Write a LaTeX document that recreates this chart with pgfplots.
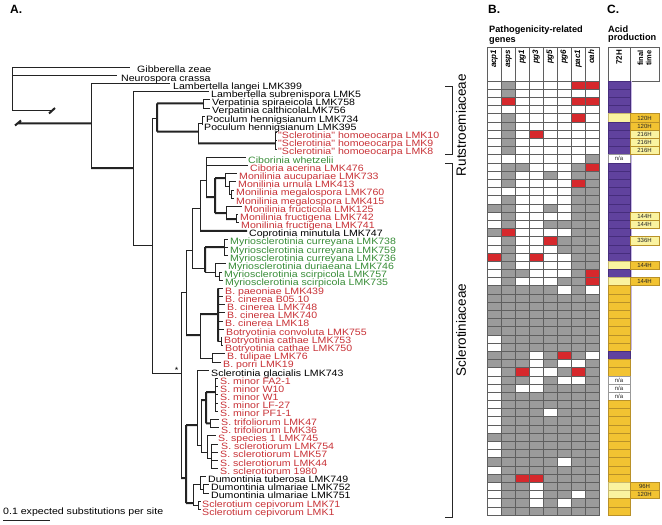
\documentclass[border=0pt]{standalone}
\usepackage{pgfplots}
\pgfplotsset{compat=1.18}
\usepackage{pgfplotstable}
\usepackage{fontspec}
\setmainfont{Liberation Sans}
\newfontfamily\labfont[FakeStretch=1.15]{Liberation Sans}

\definecolor{cgray}{RGB}{155,155,155}
\definecolor{cred}{RGB}{214,40,44}
\definecolor{cgrid}{RGB}{95,95,95}
\definecolor{apurple}{RGB}{96,66,158}
\definecolor{apurpled}{RGB}{70,45,125}
\definecolor{aorange}{RGB}{242,195,50}
\definecolor{aoranged}{RGB}{185,145,40}
\definecolor{alight}{RGB}{250,243,160}
\definecolor{alightd}{RGB}{200,185,110}
\definecolor{lred}{RGB}{200,50,55}
\definecolor{lgreen}{RGB}{55,140,55}
\definecolor{lav}{RGB}{200,185,230}
\definecolor{treec}{RGB}{35,35,35}

\pgfdeclareplotmark{cellg}{\pgfpathrectangle{\pgfqpoint{-7bp}{-4.095bp}}{\pgfqpoint{14bp}{8.19bp}}\pgfusepathqfillstroke}
\pgfdeclareplotmark{cella}{\pgfpathrectangle{\pgfqpoint{-11bp}{-4.095bp}}{\pgfqpoint{22bp}{8.19bp}}\pgfusepathqfillstroke}
\pgfdeclareplotmark{cellf}{\pgfpathrectangle{\pgfqpoint{-14.5bp}{-4.095bp}}{\pgfqpoint{29bp}{8.19bp}}\pgfusepathqfillstroke}
\pgfdeclareplotmark{nothing}{}

% gene presence: w = absent (white), g = present (gray), r = red
\pgfplotstableread{
r acp1 asps pg1 pg3 pg5 pg6 pac1 oah
0 w g w w w w r r
1 w g w w w w w w
2 w r w w w w r r
3 w w w w w w w w
4 w g w w w w r w
5 w g w w w w w w
6 w g w r w w w w
7 w g w w w w w w
8 w g w w w w w w
9 w w w w w w w g
10 w g g w w w g r
11 w g w w g w g g
12 w g w w w w r g
13 w w w w w w g g
14 w g w w w w g g
15 g g w w g w g g
16 w g w w w w g g
17 w g w w g g g g
18 g r w w w w g g
19 w g w w r g g g
20 w g w w w g g g
21 r g w r w w g g
22 w g w w w w g g
23 w g g w w w g r
24 w g w w w g g r
25 g g g g g w g w
26 g g g g g g g g
27 g g g g g g g g
28 g g g g g g g g
29 g g g g g g g g
30 g g g g g g g g
31 w g g g g g g g
32 w g g g g g g g
33 g g g w g r g w
34 g g g w g w w g
35 w g r w w g r g
36 w g g w g w w g
37 w g w w g g g g
38 w g g g g g g g
39 w g g g g g g g
40 w g g g w g g g
41 w g g g g g g g
42 w g g g g g g g
43 g g g g g g g g
44 w g g g g g g g
45 w g g g g g g g
46 g g g g g w g g
47 w g g g g g g g
48 g g r r g g g g
49 w g g w g g g g
50 w g g w g g w g
51 w g g w g w g g
52 w g g g g g g g
}\genes

% acid production at 72H: P purple, L light yellow, O orange, N n/a
\pgfplotstableread{
r c
0 P
1 P
2 P
3 P
4 L
5 P
6 P
7 P
8 P
9 N
10 P
11 P
12 P
13 P
14 P
15 P
16 P
17 P
18 P
19 P
20 P
21 P
22 L
23 P
24 L
25 O
26 O
27 O
28 O
29 O
30 O
31 O
32 O
33 P
34 O
35 O
36 N
37 N
38 N
39 O
40 O
41 O
42 O
43 O
44 O
45 O
46 O
47 O
48 O
49 L
50 L
51 O
52 O
}\acid

\pgfplotstableread{
r t
9 n/a
36 n/a
37 n/a
38 n/a
}\natab

% final time
\pgfplotstableread{
r c t
4 O 120H
5 O 120H
6 L 216H
7 L 216H
8 L 216H
16 L 144H
17 L 144H
19 L 336H
22 O 144H
24 O 144H
49 O 96H
50 O 120H
}\final

\newcommand{\tiplab}[4]{\node[anchor=west, inner sep=0pt, text height=6.6bp, text depth=0pt, text=#3, font=\labfont\fontsize{9.2bp}{9.2bp}\selectfont] at (axis cs:#1,#2) {#4};}
\newcommand{\hlab}[2]{\node[rotate=90, anchor=east, inner sep=0pt, text height=5.8bp, text depth=1.7bp, font=\bfseries\itshape\fontsize{8bp}{8bp}\selectfont] at (axis cs:#1,49.5) {#2};}
\newcommand{\vsep}[1]{\draw[cgrid, line width=0.6bp] (axis cs:#1,47) -- (axis cs:#1,81);}

\begin{document}
\begin{tikzpicture}
\begin{axis}[
  scale only axis, width=662bp, height=525bp,
  xmin=0, xmax=662, ymin=0, ymax=525, y dir=reverse,
  hide axis, clip=false,
]
\path (axis cs:0,0) rectangle (axis cs:662,525);

% ---------------- tree: thin branches
\addplot[treec, line width=0.8bp, unbounded coords=jump, mark=none] table {
x y
12 67.1
12 110.7
nan nan
12 67.1
130 67.1
nan nan
12 75.3
117 75.3
nan nan
12 110.7
53 110.7
nan nan
91 83.5
91 168
nan nan
91 83.5
170 83.5
nan nan
133 91.7
133 245
nan nan
133 91.7
209 91.7
nan nan
133 245
152 245
nan nan
152 118
152 373
nan nan
152 118
157 118
nan nan
203 99.9
203 108.1
nan nan
203 99.9
210 99.9
nan nan
203 108.1
210 108.1
nan nan
198 123.3
198 143.3
nan nan
198 123.3
202 123.3
nan nan
202 116.3
202 124.5
nan nan
202 116.3
205 116.3
nan nan
202 124.5
203 124.5
nan nan
275 132.6
275 149.0
nan nan
275 132.6
277 132.6
nan nan
275 140.8
277 140.8
nan nan
275 149.0
277 149.0
nan nan
152 373
181 373
nan nan
181 292
181 478
nan nan
181 292
186 292
nan nan
186 250
186 335
nan nan
186 250
192 250
nan nan
192 208
192 268
nan nan
192 208
200 208
nan nan
200 180
200 230.9
nan nan
200 180
206 180
nan nan
206 157.2
206 197
nan nan
206 157.2
246 157.2
nan nan
206 165.4
248 165.4
nan nan
225 173.6
225 186
nan nan
225 173.6
237 173.6
nan nan
225 186
229 186
nan nan
229 181.8
229 194
nan nan
229 181.8
236 181.8
nan nan
229 194
231 194
nan nan
231 190
231 198.2
nan nan
231 190
234 190
nan nan
231 198.2
234 198.2
nan nan
226 206.4
226 219
nan nan
226 206.4
242 206.4
nan nan
236 214.5
236 222.7
nan nan
236 214.5
238 214.5
nan nan
236 222.7
239 222.7
nan nan
192 268
205 268
nan nan
224 239.1
224 255.5
nan nan
224 239.1
228 239.1
nan nan
224 247.3
228 247.3
nan nan
224 255.5
228 255.5
nan nan
205 272
215 272
nan nan
215 263.7
215 276
nan nan
215 263.7
226 263.7
nan nan
215 276
219 276
nan nan
219 271.9
219 280.1
nan nan
219 271.9
222 271.9
nan nan
219 280.1
223 280.1
nan nan
200 314
200 358
nan nan
218 288.3
223 288.3
nan nan
218 296.4
223 296.4
nan nan
218 304.6
225 304.6
nan nan
218 312.8
225 312.8
nan nan
218 321.0
223 321.0
nan nan
218 329.2
224 329.2
nan nan
218 341.5
221 341.5
nan nan
221 337.4
221 345.6
nan nan
221 337.4
222 337.4
nan nan
221 345.6
223 345.6
nan nan
200 358
212 358
nan nan
212 353.8
212 362
nan nan
212 353.8
225 353.8
nan nan
212 362
221 362
nan nan
197 370.2
197 445
nan nan
197 370.2
209 370.2
nan nan
197 445
201 445
nan nan
201 400
201 452
nan nan
215 378.3
215 411.1
nan nan
215 378.3
218 378.3
nan nan
215 386.5
218 386.5
nan nan
215 394.7
218 394.7
nan nan
215 402.9
218 402.9
nan nan
215 411.1
218 411.1
nan nan
210 419.3
210 427.5
nan nan
210 419.3
219 419.3
nan nan
210 427.5
219 427.5
nan nan
201 452
207 452
nan nan
207 435.7
207 458
nan nan
207 435.7
216 435.7
nan nan
207 458
211 458
nan nan
211 443.9
211 468.4
nan nan
211 443.9
218 443.9
nan nan
211 452.1
218 452.1
nan nan
211 460.2
218 460.2
nan nan
211 468.4
218 468.4
nan nan
193 484
193 505.3
nan nan
193 484
200 484
nan nan
200 476.6
200 489
nan nan
200 476.6
206 476.6
nan nan
200 489
203 489
nan nan
203 484.8
203 493
nan nan
203 484.8
209 484.8
nan nan
203 493
209 493
nan nan
193 505.3
198 505.3
nan nan
198 501.2
198 509.4
nan nan
198 501.2
201 501.2
nan nan
198 509.4
201 509.4
nan nan
3 520
50 520
};

% ---------------- tree: thick (well supported) branches
\addplot[treec, line width=2bp, unbounded coords=jump, mark=none] table {
x y
17 123.3
91 123.3
nan nan
91 168
133 168
nan nan
157 103.5
157 131.7
nan nan
157 103.5
203 103.5
nan nan
157 131.7
198 131.7
nan nan
198 143.3
275 143.3
nan nan
206 197
215 197
nan nan
215 178
215 213
nan nan
215 178
225 178
nan nan
215 213
226 213
nan nan
226 219
236 219
nan nan
200 230.9
247 230.9
nan nan
205 247
205 272
nan nan
205 247
224 247
nan nan
186 335
200 335
nan nan
200 314
218 314
nan nan
218 288.3
218 341.5
nan nan
181 478
186 478
nan nan
186 425
186 503
nan nan
186 425
197 425
nan nan
201 400
206 400
nan nan
206 392
206 423.4
nan nan
206 392
215 392
nan nan
206 423.4
210 423.4
nan nan
186 503
193 503
nan nan
49 113.5
55 108
nan nan
15 125.5
21 120.5
};

% ---------------- tip labels
\tiplab{137}{69.6}{black}{Gibberella zeae}
\tiplab{121}{77.8}{black}{Neurospora crassa}
\tiplab{173}{86.0}{black}{Lambertella langei LMK399}
\tiplab{211}{94.2}{black}{Lambertella subrenispora LMK5}
\tiplab{212}{102.4}{black}{Verpatinia spiraeicola LMK758}
\tiplab{212}{110.6}{black}{Verpatinia calthicolaLMK756}
\tiplab{206}{118.8}{black}{Poculum hennigsianum LMK734}
\tiplab{204}{127.0}{black}{Poculum hennigsianum LMK395}
\tiplab{278}{135.1}{lred}{"Sclerotinia" homoeocarpa LMK10}
\tiplab{278}{143.3}{lred}{"Sclerotinia" homoeocarpa LMK9}
\tiplab{278}{151.5}{lred}{"Sclerotinia" homoeocarpa LMK8}
\tiplab{248}{159.7}{lgreen}{Ciborinia whetzelii}
\tiplab{250}{167.9}{lred}{Ciboria acerina LMK476}
\tiplab{239}{176.1}{lred}{Monilinia aucupariae LMK733}
\tiplab{238}{184.3}{lred}{Monilinia urnula LMK413}
\tiplab{236}{192.5}{lred}{Monilinia megalospora LMK760}
\tiplab{236}{200.7}{lred}{Monilinia megalospora LMK415}
\tiplab{244}{208.9}{lred}{Monilinia fructicola LMK125}
\tiplab{240}{217.0}{lred}{Monilinia fructigena LMK742}
\tiplab{241}{225.2}{lred}{Monilinia fructigena LMK741}
\tiplab{249}{233.4}{black}{Coprotinia minutula LMK747}
\tiplab{230}{241.6}{lgreen}{Myriosclerotinia curreyana LMK738}
\tiplab{230}{249.8}{lgreen}{Myriosclerotinia curreyana LMK759}
\tiplab{230}{258.0}{lgreen}{Myriosclerotinia curreyana LMK736}
\tiplab{228}{266.2}{lgreen}{Myriosclerotinia duriaeana LMK746}
\tiplab{224}{274.4}{lgreen}{Myriosclerotinia scirpicola LMK757}
\tiplab{225}{282.6}{lgreen}{Myriosclerotinia scirpicola LMK735}
\tiplab{225}{290.8}{lred}{B. paeoniae LMK439}
\tiplab{225}{298.9}{lred}{B. cinerea B05.10}
\tiplab{227}{307.1}{lred}{B. cinerea LMK748}
\tiplab{227}{315.3}{lred}{B. cinerea LMK740}
\tiplab{225}{323.5}{lred}{B. cinerea LMK18}
\tiplab{226}{331.7}{lred}{Botryotinia convoluta LMK755}
\tiplab{224}{339.9}{lred}{Botryotinia cathae LMK753}
\tiplab{225}{348.1}{lred}{Botryotinia cathae LMK750}
\tiplab{227}{356.3}{lred}{B. tulipae LMK76}
\tiplab{223}{364.5}{lred}{B. porri LMK19}
\tiplab{211}{372.7}{black}{Sclerotinia glacialis LMK743}
\tiplab{220}{380.8}{lred}{S. minor FA2-1}
\tiplab{220}{389.0}{lred}{S. minor W10}
\tiplab{220}{397.2}{lred}{S. minor W1}
\tiplab{220}{405.4}{lred}{S. minor LF-27}
\tiplab{220}{413.6}{lred}{S. minor PF1-1}
\tiplab{221}{421.8}{lred}{S. trifoliorum LMK47}
\tiplab{221}{430.0}{lred}{S. trifoliorum LMK36}
\tiplab{218}{438.2}{lred}{S. species 1 LMK745}
\tiplab{221}{446.4}{lred}{S. sclerotiorum LMK754}
\tiplab{220}{454.6}{lred}{S. sclerotiorum LMK57}
\tiplab{220}{462.7}{lred}{S. sclerotiorum LMK44}
\tiplab{220}{470.9}{lred}{S. sclerotiorum 1980}
\tiplab{208}{479.1}{black}{Dumontinia tuberosa LMK749}
\tiplab{211}{487.3}{black}{Dumontinia ulmariae LMK752}
\tiplab{211}{495.5}{black}{Dumontinia ulmariae LMK751}
\tiplab{202}{503.7}{lred}{Sclerotium cepivorum LMK71}
\tiplab{202}{511.9}{lred}{Sclerotium cepivorum LMK1}
\tiplab{3}{511.5}{black}{0.1 expected substitutions per site}
\node[inner sep=0pt, font=\fontsize{9bp}{9bp}\selectfont] at (axis cs:176.5,370) {*};

% ---------------- panel letters and headers
\node[anchor=west, inner sep=0pt, text height=8.5bp, text depth=0pt, font=\bfseries\fontsize{12bp}{12bp}\selectfont] at (axis cs:10,9.3) {A.};
\node[anchor=west, inner sep=0pt, text height=8.5bp, text depth=0pt, font=\bfseries\fontsize{12bp}{12bp}\selectfont] at (axis cs:488,9.3) {B.};
\node[anchor=west, inner sep=0pt, text height=8.5bp, text depth=0pt, font=\bfseries\fontsize{12bp}{12bp}\selectfont] at (axis cs:607,9.3) {C.};
\node[anchor=base west, inner sep=0pt, font=\bfseries\fontsize{9.2bp}{9.2bp}\selectfont] at (axis cs:489,32.5) {Pathogenicity-related};
\node[anchor=base west, inner sep=0pt, font=\bfseries\fontsize{9.2bp}{9.2bp}\selectfont] at (axis cs:489,43) {genes};
\node[anchor=base west, inner sep=0pt, font=\bfseries\fontsize{9.2bp}{9.2bp}\selectfont] at (axis cs:608,32.5) {Acid};
\node[anchor=base west, inner sep=0pt, font=\bfseries\fontsize{9.2bp}{9.2bp}\selectfont] at (axis cs:608,41) {production};

\draw[cgrid, line width=0.6bp] (axis cs:487,47) rectangle (axis cs:599,81);
\vsep{501}
\vsep{515}
\vsep{529}
\vsep{543}
\vsep{557}
\vsep{571}
\vsep{585}
\draw[cgrid, line width=0.6bp] (axis cs:608,47) rectangle (axis cs:659,81);
\vsep{630}
\hlab{494}{acp1}
\hlab{508}{asps}
\hlab{522}{pg1}
\hlab{536}{pg3}
\hlab{550}{pg5}
\hlab{564}{pg6}
\hlab{578}{pac1}
\hlab{592}{oah}
\node[rotate=90, anchor=east, inner sep=0pt, text height=5.7bp, text depth=0pt, font=\bfseries\fontsize{8bp}{8bp}\selectfont] at (axis cs:619,50) {72H};
\node[rotate=90, anchor=east, inner sep=0pt, align=center, font=\bfseries\fontsize{7.5bp}{8.2bp}\selectfont] at (axis cs:644.5,50) {final\\time};

% ---------------- gene matrix
\pgfplotsinvokeforeach{1,...,8}{
\addplot[scatter, only marks, scatter src=explicit symbolic,
  scatter/classes={
    w={mark=cellg, fill=white, draw=cgrid, line width=0.6bp},
    g={mark=cellg, fill=cgray, draw=cgrid, line width=0.6bp},
    r={mark=cellg, fill=cred, draw=cgrid, line width=0.6bp}}]
  table[x expr={480+14*#1}, y expr={85.1+8.19*\thisrow{r}}, meta index=#1] {\genes};
}

% ---------------- acid production 72H
\addplot[scatter, only marks, scatter src=explicit symbolic,
  scatter/classes={
    P={mark=cella, fill=apurple, draw=apurpled, line width=0.6bp},
    L={mark=cella, fill=alight, draw=alightd, line width=0.6bp},
    O={mark=cella, fill=aorange, draw=aoranged, line width=0.6bp},
    N={mark=cella, fill=white, draw=black!40, line width=0.6bp}}]
  table[x expr=619, y expr={85.1+8.19*\thisrow{r}}, meta=c] {\acid};
\addplot[lav, line width=1.4bp, mark=none] coordinates {(631,81) (631,350)};

% ---------------- final time
\addplot[scatter, only marks, scatter src=explicit symbolic,
  scatter/classes={
    L={mark=cellf, fill=alight, draw=aoranged, line width=0.6bp},
    O={mark=cellf, fill=aorange, draw=aoranged, line width=0.6bp}}]
  table[x expr=644.5, y expr={85.1+8.19*\thisrow{r}}, meta=c] {\final};

% ---------------- cell texts
\addplot[only marks, mark=nothing, point meta=explicit symbolic,
  nodes near coords, nodes near coords align={center},
  every node near coord/.append style={inner sep=0pt, text height=4.3bp, text depth=0pt, text=black!85, font=\fontsize{6bp}{6bp}\selectfont}]
  table[x expr=644.5, y expr={85.1+8.19*\thisrow{r}}, meta=t] {\final};
\addplot[only marks, mark=nothing, point meta=explicit symbolic,
  nodes near coords, nodes near coords align={center},
  every node near coord/.append style={inner sep=0pt, text height=4.3bp, text depth=0pt, text=black!85, font=\fontsize{6bp}{6bp}\selectfont}]
  table[x expr=619, y expr={85.1+8.19*\thisrow{r}}, meta=t] {\natab};

% ---------------- family brackets
\draw[black!85, line width=0.8bp] (axis cs:445,86) -- (axis cs:452,86) -- (axis cs:452,154) -- (axis cs:445,154);
\draw[black!85, line width=0.8bp] (axis cs:445,163) -- (axis cs:452,163) -- (axis cs:452,517) -- (axis cs:445,517);
\node[rotate=90, inner sep=0pt, text height=9.7bp, text depth=0pt, font=\fontsize{13.5bp}{13.5bp}\selectfont] at (axis cs:461,125) {Rutstroemiaceae};
\node[rotate=90, inner sep=0pt, text height=9.7bp, text depth=0pt, font=\fontsize{13.5bp}{13.5bp}\selectfont] at (axis cs:461,330) {Sclerotiniaceae};
\end{axis}
\end{tikzpicture}
\end{document}
